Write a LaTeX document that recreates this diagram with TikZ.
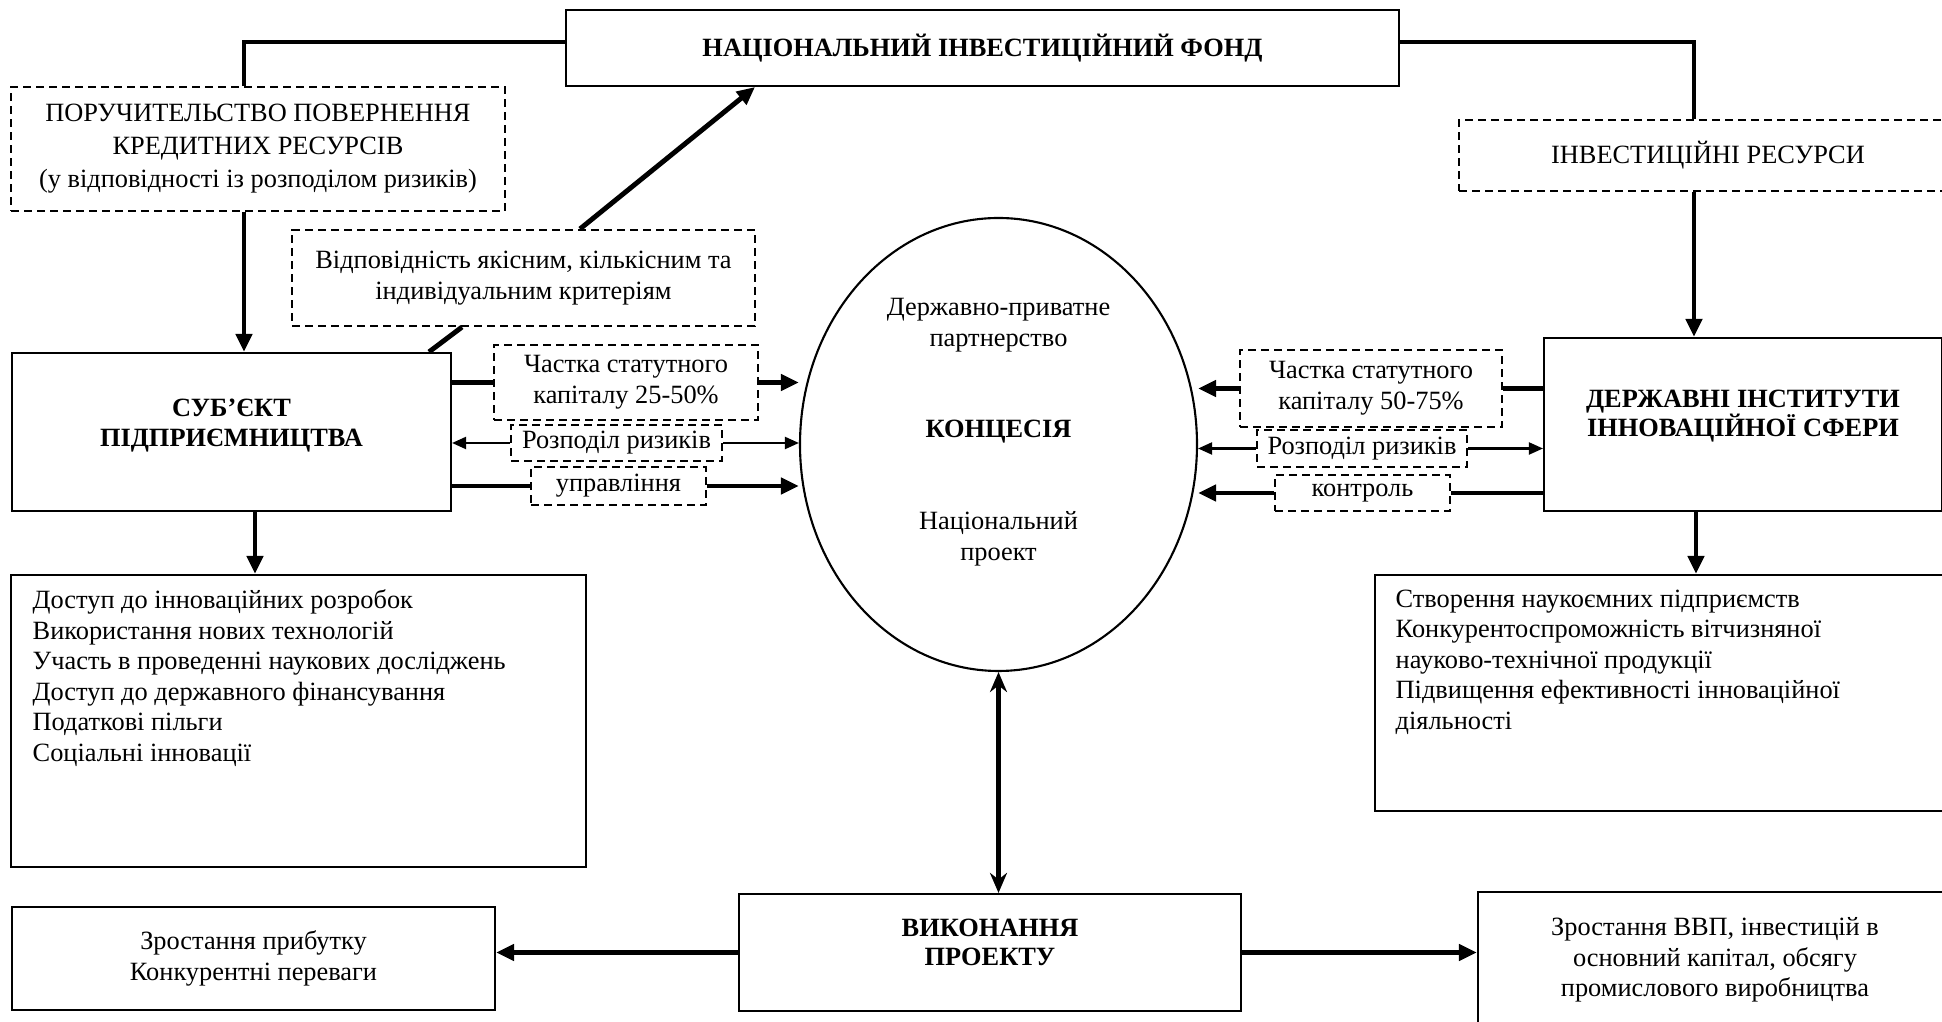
\documentclass[tikz,border=0pt]{standalone}
\usepackage{fontspec}
\setmainfont{Liberation Serif}
\usetikzlibrary{arrows.meta,shapes.geometric}

\begin{document}
\begin{tikzpicture}[
	box/.style={draw, line width=0.6pt, inner sep=0pt, align=center},
	dbox/.style={draw, line width=0.6pt, dash pattern=on 2.3pt off 1.4pt, inner sep=0pt, align=center},
	txt/.style={font=\fontsize{7.5}{8.7}\selectfont},
	btxt/.style={font=\fontsize{7.5}{8.3}\selectfont\bfseries},
	plain/.style={line width=1.4pt},
	heavy/.style={line width=1.4pt, -{Triangle[length=0.18cm,width=0.16cm]}},
	thin/.style={line width=0.6pt, -{Triangle[length=0.14cm,width=0.12cm]}},
	both/.style={line width=1.4pt, {Stealth[length=0.2cm,width=0.17cm]}-{Stealth[length=0.2cm,width=0.17cm]}},
]
\useasboundingbox (0,0) rectangle (19.42,10.22);
\clip (0,0) rectangle (19.42,10.22);
	% top row
	\node[box, btxt, minimum width=8.33cm, minimum height=0.76cm] (fund) at (9.825,9.74) {НАЦІОНАЛЬНИЙ ІНВЕСТИЦІЙНИЙ ФОНД};
	\node[dbox, txt, font=\fontsize{7.5}{9.4}\selectfont, minimum width=4.94cm, minimum height=1.24cm] (guar) at (2.58,8.73) {ПОРУЧИТЕЛЬСТВО ПОВЕРНЕННЯ\\КРЕДИТНИХ РЕСУРСІВ\\(у відповідності із розподілом ризиків)};
	\node[dbox, txt, minimum width=4.63cm, minimum height=0.96cm] (crit) at (5.235,7.44) {Відповідність якісним, кількісним та\\індивідуальним критеріям};
	\node[dbox, txt, minimum width=4.98cm, minimum height=0.71cm] (inv) at (17.08,8.665) {ІНВЕСТИЦІЙНІ РЕСУРСИ};
	% participants
	\node[box, minimum width=4.39cm, minimum height=1.58cm] (subj) at (2.315,5.90) {};
	\node[btxt, align=center] (subj-t) at (2.315,5.965) {СУБ'ЄКТ\\ПІДПРИЄМНИЦТВА};
	\node[box, minimum width=3.98cm, minimum height=1.73cm] (derzh) at (17.43,5.975) {};
	\node[btxt, align=center] (derzh-t) at (17.43,6.06) {ДЕРЖАВНІ ІНСТИТУТИ\\ІННОВАЦІЙНОЇ СФЕРИ};
	% concession
	\node[draw, ellipse, line width=0.6pt, minimum width=3.97cm, minimum height=4.53cm] (conc) at (9.985,5.775) {};
	\node[txt, align=center] (conc-a) at (9.985,6.97) {Державно-приватне\\партнерство};
	\node[btxt] (conc-b) at (9.985,5.90) {КОНЦЕСІЯ};
	\node[txt, align=center] (conc-c) at (9.985,4.83) {Національний\\проект};
	% labels on the flows
	\node[dbox, txt, minimum width=2.64cm, minimum height=0.75cm] (c1) at (6.26,6.395) {Частка статутного\\капіталу 25-50\%};
	\node[dbox, txt, minimum width=2.11cm, minimum height=0.36cm] (r1) at (6.165,5.79) {Розподіл ризиків};
	\node[dbox, txt, minimum width=1.75cm, minimum height=0.38cm] (u1) at (6.185,5.36) {управління};
	\node[dbox, txt, minimum width=2.62cm, minimum height=0.77cm] (c2) at (13.71,6.335) {Частка статутного\\капіталу 50-75\%};
	\node[dbox, txt, minimum width=2.10cm, minimum height=0.37cm] (r2) at (13.62,5.735) {Розподіл ризиків};
	\node[dbox, txt, minimum width=1.75cm, minimum height=0.36cm] (k2) at (13.625,5.29) {контроль};
	% benefits
	\node[box, minimum width=5.75cm, minimum height=2.92cm] (list1) at (2.985,3.01) {};
	\node[txt, align=left, anchor=north west, inner sep=0pt] (list1-t) at (0.32,4.33) {Доступ до інноваційних розробок\\Використання нових технологій\\Участь в проведенні наукових досліджень\\Доступ до державного фінансування\\Податкові пільги\\Соціальні інновації};
	\node[box, minimum width=5.75cm, minimum height=2.36cm] (list2) at (16.625,3.29) {};
	\node[txt, align=left, anchor=north west, inner sep=0pt] (list2-t) at (13.95,4.33) {Створення наукоємних підприємств\\Конкурентоспроможність вітчизняної\\науково-технічної продукції\\Підвищення ефективності інноваційної\\діяльності};
	% bottom row
	\node[box, minimum width=5.02cm, minimum height=1.17cm] (vyk) at (9.90,0.695) {};
	\node[btxt, align=center] (vyk-t) at (9.90,0.80) {ВИКОНАННЯ\\ПРОЕКТУ};
	\node[box, txt, minimum width=4.83cm, minimum height=1.03cm] (grow) at (2.535,0.635) {Зростання прибутку\\Конкурентні переваги};
	\node[box, txt, minimum width=4.74cm, minimum height=1.36cm] (gdp) at (17.15,0.62) {Зростання ВВП, інвестицій в\\основний капітал, обсягу\\промислового виробництва};

	% fund links
	\draw[plain] ([yshift=0.06cm]fund.west) -| ([xshift=-0.14cm]guar.north);
	\draw[heavy] ([xshift=-0.14cm]guar.south) -- ([xshift=-0.14cm]guar.south |- subj.north);
	\draw[plain] ([xshift=-0.615cm]crit.south) -- ([xshift=1.975cm]subj.north);
	\draw[heavy] ([xshift=0.565cm]crit.north) -- ([xshift=-2.275cm]fund.south);
	\draw[plain] ([yshift=0.06cm]fund.east) -| ([xshift=-0.14cm]inv.north);
	\draw[heavy] ([xshift=-0.14cm]inv.south) -- ([xshift=-0.14cm]inv.south |- derzh.north);
	% left flows
	\draw[plain] (subj.east |- c1) -- (c1.west);
	\draw[heavy] (c1.east) -- (c1.east -| conc.west);
	\draw[thin] (r1.west) -- (r1.west -| subj.east);
	\draw[thin] (r1.east) -- (r1.east -| conc.west);
	\draw[plain] (subj.east |- u1) -- (u1.west);
	\draw[heavy] (u1.east) -- (u1.east -| conc.west);
	% right flows
	\draw[plain] (derzh.west |- c2) -- (c2.east);
	\draw[heavy] (c2.west) -- (c2.west -| conc.east);
	\draw[thin] (r2.west) -- (r2.west -| conc.east);
	\draw[thin] (r2.east) -- (r2.east -| derzh.west);
	\draw[plain] (derzh.west |- k2) -- (k2.east);
	\draw[heavy] (k2.west) -- (k2.west -| conc.east);
	% results
	\draw[heavy] ([xshift=0.235cm]subj.south) -- ([xshift=0.235cm]subj.south |- list1.north);
	\draw[heavy] ([xshift=-0.47cm]derzh.south) -- ([xshift=-0.47cm]derzh.south |- list2.north);
	\draw[both] (conc.south) -- (conc.south |- vyk.north);
	\draw[heavy] (vyk.west) -- (vyk.west -| grow.east);
	\draw[heavy] (vyk.east) -- (vyk.east -| gdp.west);
\end{tikzpicture}
\end{document}
